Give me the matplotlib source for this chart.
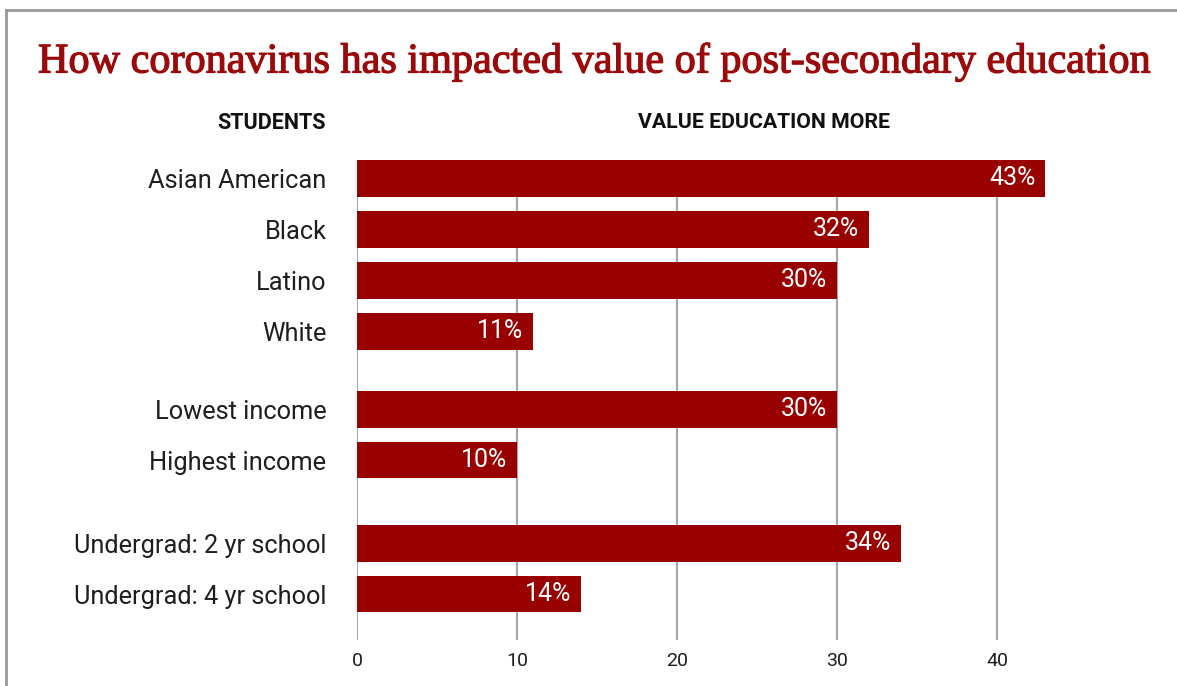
import matplotlib.pyplot as plt
import matplotlib.patheffects as pe
from matplotlib.lines import Line2D

# data
groups = [
    ["Asian American", "Black", "Latino", "White"],
    ["Lowest income", "Highest income"],
    ["Undergrad: 2 yr school", "Undergrad: 4 yr school"],
]
values = [43, 32, 30, 11, 30, 10, 34, 14]
ticks = [0, 10, 20, 30, 40]

red = "#990000"
grid_c = "#a6a6a6"
txt = "#1e1e1e"
plt.rcParams['font.family'] = ['Roboto', 'DejaVu Sans']

# bar positions, extra space between groups
gaps = [0.53, 0.63, 0]
labels = []
pos = []
y = 0
for g, gp in zip(groups, gaps):
    for lab in g:
        labels.append(lab)
        pos.append(y)
        y += 1
    y += gp
h = 0.72

fig = plt.figure(figsize=(11.77, 6.86), dpi=100)
ax = fig.add_axes([357 / 1177, 46 / 686, 800 / 1177, 480 / 686])

for t in ticks:
    ax.axvline(t, color=grid_c, lw=1.5, zorder=0)
ax.barh(pos, values, height=h, color=red, zorder=2)
for p, v in zip(pos, values):
    ax.text(v - 0.6, p, f"{v}%", ha="right", va="center", color="white",
            fontsize=18, zorder=3)

ax.set_xlim(0, 50)
ax.set_ylim(pos[-1] + 0.9, pos[0] - h / 2)
ax.set_yticks(pos)
ax.set_yticklabels(labels, fontsize=18.3, color=txt)
ax.set_xticks(ticks)
ax.set_xticklabels([str(t) for t in ticks], fontsize=14, color=txt)
ax.tick_params(axis="y", length=0, pad=22)
ax.tick_params(axis="x", length=0, pad=9)
for s in ax.spines.values():
    s.set_visible(False)

title_c = "#9b0a0a"
fig.text(38 / 1177, 1 - 62 / 686, "How coronavirus has impacted value of post-secondary education",
         fontsize=30.4, color=title_c, family="Liberation Serif", ha="left", va="center",
         path_effects=[pe.withStroke(linewidth=0.9, foreground=title_c)])
fig.text(326 / 1177, 1 - 123 / 686, "STUDENTS", fontsize=15.5, fontweight="bold",
         color="#111111", ha="right", va="center")
fig.text(764 / 1177, 1 - 123 / 686, "VALUE EDUCATION MORE", fontsize=15.3, fontweight="bold",
         color="#111111", ha="center", va="center")

# outer frame
fig.add_artist(Line2D([6 / 1177, 1], [1 - 10 / 686, 1 - 10 / 686], color="#999999", lw=2,
                      transform=fig.transFigure))
fig.add_artist(Line2D([6 / 1177, 6 / 1177], [0, 1 - 10 / 686], color="#999999", lw=2,
                      transform=fig.transFigure))

fig.savefig("out.png", dpi=100)
